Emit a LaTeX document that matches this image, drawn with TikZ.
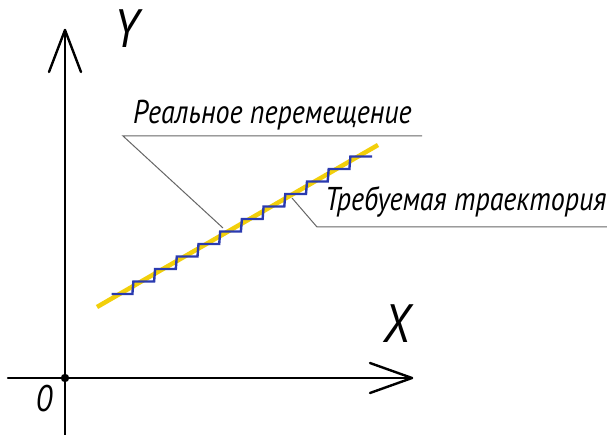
\documentclass[tikz,border=0pt]{standalone}
\usepackage{fontspec}
\setmainfont{PT Sans}
\newfontfamily\gost[FakeStretch=0.85]{PT Sans}
\usetikzlibrary{calc}
\definecolor{stairblue}{HTML}{2A3AB0}
\definecolor{trajyellow}{HTML}{F2CF0A}
\definecolor{leadergray}{HTML}{666666}
\tikzset{
  axis/.style={line width=2.4pt, black, line cap=round, line join=round},
  leader/.style={line width=1pt, leadergray},
  lbl/.style={font=\gost\itshape\fontsize{33}{33}\selectfont, inner sep=0pt},
  biglbl/.style={font=\gost\itshape\fontsize{54}{54}\selectfont, inner sep=0pt},
}
\begin{document}
\begin{tikzpicture}[x=1pt,y=-1pt]
\useasboundingbox[fill=white] (0,0) rectangle (607,435);
% axes
\coordinate (O) at (65,378);
\coordinate (Ybot) at (65,435);
\coordinate (Ytip) at (65,30);
\coordinate (Yl) at (49,72);
\coordinate (Yr) at (81,72);
\coordinate (Xleft) at (8,378);
\coordinate (Xtip) at (412,378);
\coordinate (Xu) at (370,363);
\coordinate (Xd) at (370,393);
\draw[axis] (Ybot) -- (Ytip);
\draw[axis] (Yl) -- (Ytip) -- (Yr);
\draw[axis] (Xleft) -- (Xtip);
\draw[axis] (Xu) -- (Xtip) -- (Xd);
\fill (O) circle (4.2);
\node[biglbl, anchor=center] (ylab) at (127,29) {Y};
\node[biglbl, anchor=center] (xlab) at (397,324) {X};
\node[lbl, font=\gost\itshape\fontsize{37}{37}\selectfont, anchor=center] (olab) at (44,399) {0};
% trajectory
\coordinate (T1) at (97,307);
\coordinate (T2) at (378,145);
\draw[trajyellow, line width=4.5pt] (T1) -- (T2);
% staircase
\draw[stairblue, line width=2.4pt, line join=miter]
  (111.7,294)
  \foreach \i in {0,...,10} {
    -- ++(20.7,0) -- ++(1,-12.5)
  } -- ++(21.7,0);
% leaders
\coordinate (A1) at (223,228);
\coordinate (A2) at (123,136);
\coordinate (A3) at (422,136);
\draw[leader] (A1) -- (A2) -- (A3);
\coordinate (B1) at (292,198);
\coordinate (B2) at (317,227);
\coordinate (B3) at (607,227);
\draw[leader] (B1) -- (B2) -- (B3);
\node[lbl, anchor=base west] (real) at (133,124) {Реальное перемещение};
\node[lbl, anchor=base west] (req) at (325,211) {Требуемая траектория};
\end{tikzpicture}
\end{document}
